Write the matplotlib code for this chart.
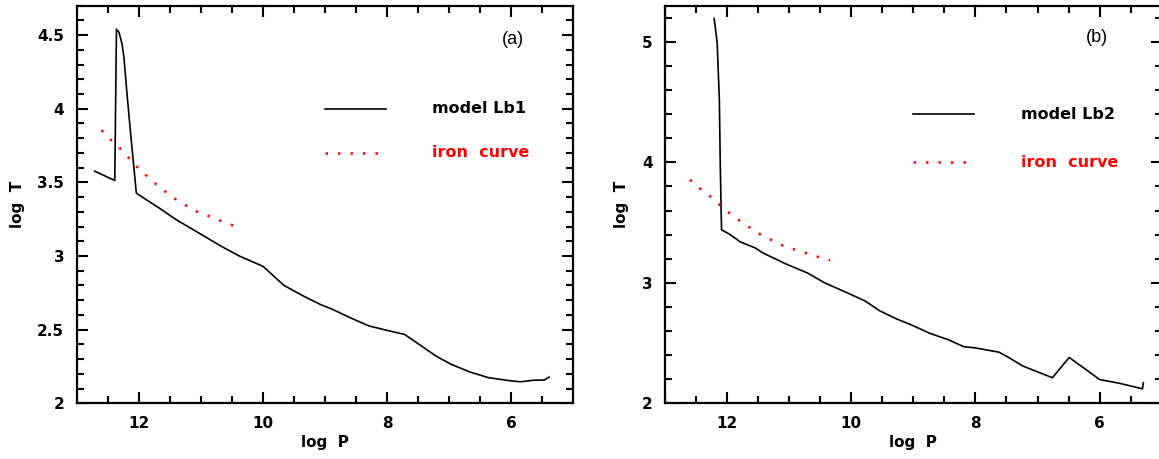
import numpy as np
import matplotlib
matplotlib.use("Agg")
import matplotlib.pyplot as plt
from matplotlib.ticker import MultipleLocator, FuncFormatter

# model Lb1 temperature profile (log P, log T)
logP_a = [12.71, 12.387, 12.36, 12.32, 12.27, 12.24, 12.19, 12.12, 12.07, 12.04,
          11.86, 11.65, 11.41, 11.04, 10.68, 10.38, 10.0, 9.66, 9.37, 9.07, 8.89,
          8.59, 8.29, 8.0, 7.72, 7.45, 7.21, 6.97, 6.67, 6.37, 6.0, 5.85, 5.65,
          5.47, 5.39]
logT_a = [3.576, 3.513, 4.54, 4.52, 4.44, 4.35, 4.10, 3.78, 3.56, 3.427,
          3.377, 3.32, 3.25, 3.158, 3.068, 3.0, 2.93, 2.80, 2.733, 2.67, 2.64,
          2.58, 2.525, 2.495, 2.468, 2.39, 2.32, 2.265, 2.213, 2.174, 2.152, 2.146, 2.156,
          2.158, 2.178]

# model Lb2 temperature profile
logP_b = [12.21, 12.19, 12.16, 12.125, 12.11, 12.09, 11.95, 11.79, 11.55, 11.42,
          11.06, 10.70, 10.43, 10.1, 9.78, 9.54, 9.27, 9.03, 8.73, 8.43, 8.19,
          8.01, 7.62, 7.47, 7.24, 6.76, 6.49, 6.22, 6.0, 5.68, 5.31, 5.295]
logT_b = [5.195, 5.12, 4.99, 4.52, 3.97, 3.44, 3.40, 3.34, 3.29, 3.247,
          3.158, 3.08, 3.0, 2.925, 2.85, 2.767, 2.70, 2.65, 2.58, 2.526, 2.47,
          2.46, 2.424, 2.382, 2.31, 2.212, 2.38, 2.28, 2.197, 2.166, 2.12, 2.17]

# iron curve
logP_fe = [12.60, 12.43, 12.30, 12.04, 11.76, 11.46, 11.11, 10.75, 10.34]
logT_fe = [3.855, 3.78, 3.73, 3.61, 3.50, 3.40, 3.31, 3.25, 3.185]

labels = ["model Lb1", "model Lb2"]
tags = ["(a)", "(b)"]

fig = plt.figure(figsize=(11.59, 4.59), dpi=100)
ax_a = fig.add_axes([0.0662, 0.1214, 0.4285, 0.8662])
ax_b = fig.add_axes([0.5738, 0.1214, 0.4285, 0.8662])

fmt = FuncFormatter(lambda v, p: "%g" % v)
dots = (0, (1.0, 4.0))


def style(ax, ylim, ymaj, ymin):
    ax.set_xlim(13, 5)
    ax.set_ylim(*ylim)
    ax.xaxis.set_major_locator(MultipleLocator(2))
    ax.xaxis.set_minor_locator(MultipleLocator(0.5))
    ax.yaxis.set_major_locator(MultipleLocator(ymaj))
    ax.yaxis.set_minor_locator(MultipleLocator(ymin))
    ax.yaxis.set_major_formatter(fmt)
    ax.xaxis.set_major_formatter(fmt)
    ax.tick_params(which="both", direction="in", top=True, right=True, width=1.5)
    ax.tick_params(which="major", length=8, labelsize=11, pad=9)
    ax.tick_params(which="minor", length=5)
    for lab in ax.get_xticklabels() + ax.get_yticklabels():
        lab.set_fontweight("bold")
    for sp in ax.spines.values():
        sp.set_linewidth(1.6)
    ax.set_xlabel("log  P", fontsize=11, fontweight="bold", labelpad=3)
    ax.set_ylabel("log  T", fontsize=11, fontweight="bold", labelpad=9)


panels = [
    (ax_a, logP_a, logT_a, (2, 4.7), 0.5, 0.1, 0.741, 0.63, 0.8775, 0.915),
    (ax_b, logP_b, logT_b, (2, 5.3), 1, 0.2, 0.727, 0.606, 0.87, 0.921),
]

for i, (ax, px, ty, ylim, ymaj, ymin, yl1, yl2, tx, tyy) in enumerate(panels):
    ax.plot(px, ty, color="black", lw=1.2)
    ax.plot(logP_fe, logT_fe, color="red", lw=1.8, linestyle=dots)
    style(ax, ylim, ymaj, ymin)

    # legend drawn in the style of the original plotting package
    ax.plot([0.50, 0.623], [yl1, yl1], color="black", lw=1.2, transform=ax.transAxes)
    ax.plot([0.50, 0.623], [yl2, yl2], color="red", lw=1.8,
            linestyle=dots, transform=ax.transAxes)
    ax.text(0.716, yl1, labels[i], transform=ax.transAxes, fontsize=11.5,
            fontweight="bold", va="center", ha="left")
    ax.text(0.716, yl2, "iron  curve", transform=ax.transAxes, fontsize=11.5,
            fontweight="bold", va="center", ha="left", color="red")
    ax.text(tx, tyy, tags[i], transform=ax.transAxes, fontsize=13,
            family="Liberation Sans", va="center", ha="center")

fig.savefig("out.png", dpi=100)
